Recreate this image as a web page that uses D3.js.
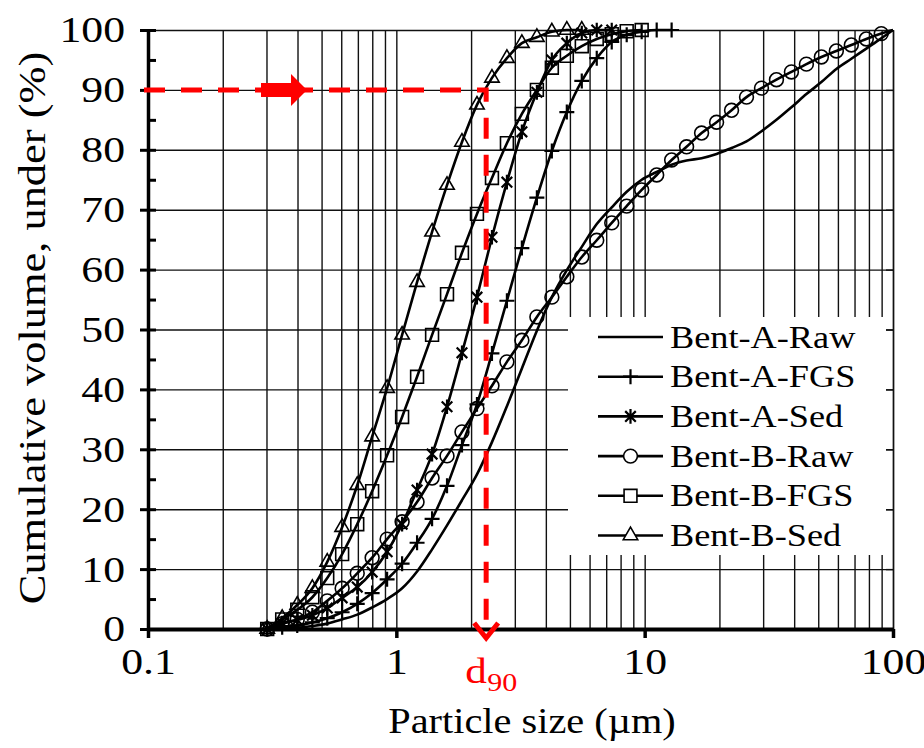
<!DOCTYPE html>
<html lang="en">
<head>
<meta charset="utf-8">
<script src="https://cdn.jsdelivr.net/npm/d3@7"></script>
<style>
  body { margin: 0; background: #fff; }
  svg text { font-family: "Liberation Serif", "Times New Roman", serif; fill: #000; }
</style>
</head>
<body>
<svg id="chart" width="924" height="748"></svg>
<script>
// particle size bins (um), same for every sample
const sizes = [0.302, 0.347, 0.399, 0.459, 0.527, 0.605, 0.696, 0.799, 0.918, 1.055,
  1.212, 1.393, 1.600, 1.838, 2.112, 2.427, 2.788, 3.203, 3.681, 4.229,
  4.859, 5.582, 6.413, 7.369, 8.466, 9.727, 11.18, 12.84, 14.75, 16.95,
  19.48, 22.38, 25.71, 29.54, 33.94, 38.99, 44.80, 51.47, 59.14, 67.95,
  78.07, 89.70, 100];

// cumulative volume under (%)
const bentARaw = [0, 0, 0.2, 0.5, 0.9, 1.6, 2.4, 3.6, 5.0, 6.8, 9.6, 13.3, 17.3, 21.5, 25.8,
  31.2, 37.2, 43.5, 49.8, 55.4, 59.9, 63.8, 67.6, 70.4, 73.0, 75.0, 76.3, 77.5, 78.2,
  78.6, 79.3, 80.3, 81.4, 83.1, 85.0, 87.1, 89.3, 91.3, 93.5, 95.2, 96.9, 98.6, 100];
const bentAFGS = [0, 0.3, 0.6, 1.1, 1.8, 2.8, 4.2, 6.0, 8.3, 10.9, 14.4, 18.4, 23.9, 30.7,
  37.5, 46.0, 54.8, 63.6, 72.0, 79.8, 86.3, 91.5, 95.3, 98.0, 99.2, 99.7, 100, 100];
const bentASed = [0, 1.0, 1.5, 2.3, 3.5, 5.2, 7.0, 9.5, 12.9, 17.5, 23.2, 29.2, 37.1, 46.1,
  55.4, 65.4, 74.6, 83.0, 89.6, 95.0, 97.8, 99.5, 100, 100];
const bentBRaw = [0, 0.9, 1.6, 2.8, 4.7, 6.8, 9.3, 11.9, 15.0, 17.9, 21.2, 25.2, 28.9, 32.9,
  36.8, 40.6, 44.6, 48.2, 52.1, 55.4, 58.8, 62.1, 64.9, 67.8, 70.6, 73.3, 75.8, 78.3, 80.5,
  82.8, 84.6, 86.6, 88.8, 90.3, 91.7, 93.0, 94.3, 95.5, 96.5, 97.5, 98.5, 99.4, 100];
const bentBFGS = [0, 1.6, 3.2, 5.3, 8.5, 12.5, 17.5, 23.0, 29.0, 35.4, 42.1, 49.1, 55.9, 62.8,
  69.3, 75.3, 81.1, 86.0, 90.0, 93.7, 95.7, 97.3, 98.5, 99.3, 99.8, 100];
const bentBSed = [0, 1.8, 4.0, 6.8, 11.2, 17.0, 24.0, 32.1, 40.2, 49.1, 57.9, 66.3, 74.1,
  81.3, 87.5, 92.0, 95.3, 97.8, 98.8, 99.7, 100, 100];

const seriesNames = ["Bent-A-Raw", "Bent-A-FGS", "Bent-A-Sed", "Bent-B-Raw", "Bent-B-FGS", "Bent-B-Sed"];
const seriesValues = [bentARaw, bentAFGS, bentASed, bentBRaw, bentBFGS, bentBSed];
const seriesMarkers = ["none", "plus", "asterisk", "circle", "square", "triangle"];

const xTicks = [0.1, 1, 10, 100];
const xTickLabels = ["0.1", "1", "10", "100"];
const yTicks = [0, 10, 20, 30, 40, 50, 60, 70, 80, 90, 100];
const yMinorTicks = [5, 15, 25, 35, 45, 55, 65, 75, 85, 95];
const d90Size = 2.3;
const d90Level = 90;

const svg = d3.select("#chart");
const x = d3.scaleLog().domain([0.1, 100]).range([148, 893]);
const y = d3.scaleLinear().domain([0, 100]).range([629, 30]);
const plotL = 148, plotR = 893, plotT = 30, plotB = 629;

// the source figure's lettering is a bit wider than plain Times
function stretch(sel, k) {
  sel.each(function () {
    const w = this.getComputedTextLength();
    d3.select(this).attr("textLength", w * k).attr("lengthAdjust", "spacingAndGlyphs");
  });
}

// grid
svg.append("g").attr("transform", `translate(0,${plotB})`)
  .call(d3.axisBottom(x).tickValues(x.ticks()).tickSize(-(plotB - plotT)).tickFormat(""))
  .call(g => g.select(".domain").remove())
  .selectAll("line").attr("stroke", "#111").attr("stroke-width", 1.4);
svg.append("g").attr("transform", `translate(${plotL},0)`)
  .call(d3.axisLeft(y).tickValues(yTicks).tickSize(-(plotR - plotL)).tickFormat(""))
  .call(g => g.select(".domain").remove())
  .selectAll("line").attr("stroke", "#111").attr("stroke-width", 1.4);

// right frame with inward ticks
svg.append("g").attr("transform", `translate(${plotR},0)`)
  .call(d3.axisLeft(y).tickValues(yTicks).tickSize(7).tickSizeOuter(0).tickFormat(""))
  .call(g => g.select(".domain").attr("stroke", "#111").attr("stroke-width", 1.4))
  .selectAll("line").attr("stroke", "#111").attr("stroke-width", 1.4);

// legend background hides the grid
svg.append("rect").attr("x", 568).attr("y", 317).attr("width", 318).attr("height", 238).attr("fill", "#fff");

// curves
const line = d3.line()
  .x(d => x(d[0])).y(d => y(d[1]))
  .curve(d3.curveMonotoneX);

// six-armed star: vertical bar plus an X
const symbolStar = {
  draw(context, size) {
    const r = Math.sqrt(size) * 0.6, u = r * 0.72;
    context.moveTo(0, -r); context.lineTo(0, r);
    context.moveTo(-u, -u); context.lineTo(u, u);
    context.moveTo(-u, u); context.lineTo(u, -u);
  }
};
const symbolTypes = {
  plus: d3.symbolPlus, asterisk: symbolStar, circle: d3.symbolCircle,
  square: d3.symbolSquare, triangle: d3.symbolTriangle2
};
const symbolSizes = { plus: 75, asterisk: 150, circle: 150, square: 165, triangle: 150 };

function markerPath(type) {
  return d3.symbol().type(symbolTypes[type]).size(symbolSizes[type])();
}

seriesValues.forEach((vals, i) => {
  const pts = vals.map((v, j) => [sizes[j], v]);
  svg.append("path").datum(pts)
    .attr("d", line).attr("fill", "none")
    .attr("stroke", "#000").attr("stroke-width", 2.6);
  const m = seriesMarkers[i];
  if (m === "none") return;
  const markerPts = pts.filter(p => p[0] < 100);
  svg.append("g").selectAll("path").data(markerPts).join("path")
    .attr("transform", d => `translate(${x(d[0])},${y(d[1])})`)
    .attr("d", markerPath(m))
    .attr("fill", "none").attr("stroke", "#000")
    .attr("stroke-width", m === "plus" || m === "asterisk" ? 2.2 : 1.6);
});

// axes
const yAxis = svg.append("g").attr("transform", `translate(${plotL},0)`)
  .call(d3.axisLeft(y).tickValues(yTicks).tickSize(8).tickSizeOuter(0).tickPadding(15));
yAxis.select(".domain").attr("stroke-width", 3.5);
yAxis.selectAll(".tick line").attr("stroke-width", 3);
yAxis.selectAll("text").attr("font-size", 35).attr("font-family", "Liberation Serif").attr("dy", "0.34em")
  .call(stretch, 1.25);
svg.append("g").attr("transform", `translate(${plotL},0)`)
  .call(d3.axisRight(y).tickValues(yTicks.concat(yMinorTicks)).tickSize(8).tickSizeOuter(0).tickFormat(""))
  .call(g => g.select(".domain").remove())
  .selectAll("line").attr("stroke-width", 3);

const xAxis = svg.append("g").attr("transform", `translate(0,${plotB})`)
  .call(d3.axisBottom(x).tickValues(xTicks).tickFormat((d, i) => xTickLabels[i])
    .tickSize(9).tickSizeOuter(0).tickPadding(11));
xAxis.select(".domain").attr("stroke-width", 4);
xAxis.selectAll(".tick line").attr("stroke-width", 3.5);
xAxis.selectAll("text").attr("font-size", 35).attr("font-family", "Liberation Serif")
  .call(stretch, 1.25);

// axis titles
svg.append("text").attr("x", 532).attr("y", 733).attr("text-anchor", "middle")
  .attr("font-size", 36).text("Particle size  (\u00b5m)").call(stretch, 1.12);
svg.append("text").attr("transform", "translate(45,328) rotate(-90)").attr("text-anchor", "middle")
  .attr("font-size", 37).text("Cumulative volume, under  (%)").call(stretch, 1.2);

// d90 guide
svg.append("path")
  .attr("d", `M${x(0.1) - 4},${y(d90Level)} H${x(d90Size)} V${y(0) - 4}`)
  .attr("fill", "none").attr("stroke", "#ff0000").attr("stroke-width", 5)
  .attr("stroke-dasharray", "21,16");
const ax = 261, ay = y(d90Level);
svg.append("path")
  .attr("d", `M${ax},${ay - 7} H${ax + 30} V${ay - 16} L${ax + 46},${ay} L${ax + 30},${ay + 16} V${ay + 7} H${ax} Z`)
  .attr("fill", "#ff0000");
const vx = x(d90Size), vy = y(0);
svg.append("path")
  .attr("d", `M${vx - 12},${vy - 6} L${vx},${vy + 9} L${vx + 12},${vy - 6}`)
  .attr("fill", "none").attr("stroke", "#ff0000").attr("stroke-width", 5);
svg.append("text").attr("x", vx - 21).attr("y", 683)
  .attr("font-size", 36).style("fill", "#ff0000").text("d").call(stretch, 1.2);
svg.append("text").attr("x", vx + 1).attr("y", 691)
  .attr("font-size", 25).style("fill", "#ff0000").text("90").call(stretch, 1.2);

// legend
const legend = svg.append("g");
seriesNames.forEach((name, i) => {
  const ly = 337 + i * 39.7;
  legend.append("line").attr("x1", 598).attr("x2", 663).attr("y1", ly).attr("y2", ly)
    .attr("stroke", "#000").attr("stroke-width", 2.6);
  const m = seriesMarkers[i];
  if (m !== "none") {
    legend.append("path").attr("transform", `translate(630.5,${ly})`)
      .attr("d", markerPath(m)).attr("fill", m === "plus" ? "none" : "#fff")
      .attr("stroke", "#000").attr("stroke-width", m === "plus" || m === "asterisk" ? 2.2 : 1.6);
  }
  legend.append("text").attr("x", 670).attr("y", ly).attr("dy", "0.34em")
    .attr("font-size", 31).text(name).call(stretch, 1.17);
});
</script>
</body>
</html>
